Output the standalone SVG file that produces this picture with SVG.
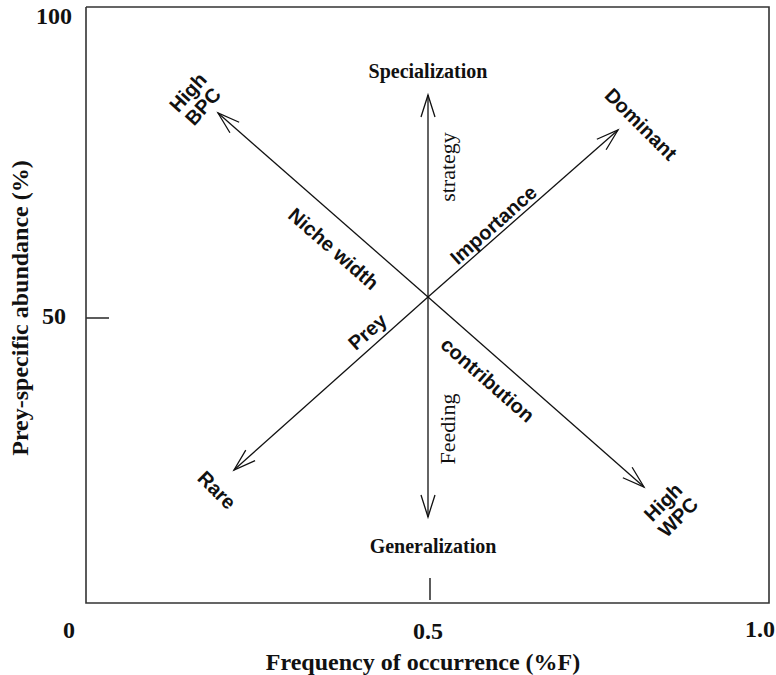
<svg xmlns="http://www.w3.org/2000/svg" width="776" height="675" viewBox="0 0 776 675">
<style>
.ax{fill:none;stroke:#333;stroke-width:1.6}
.ar{fill:none;stroke:#111;stroke-width:1.3}
.sf{font-family:"Liberation Serif","Times New Roman",serif;font-weight:bold;fill:#111}
.ss{font-family:"Liberation Sans",Arial,sans-serif;font-weight:bold;fill:#111;font-size:20px}
.sr{font-family:"Liberation Serif","Times New Roman",serif;fill:#111;font-size:22px}
</style>
<defs>
<marker id="v" markerWidth="30" markerHeight="20" refX="24" refY="8" orient="auto" markerUnits="userSpaceOnUse" viewBox="0 0 30 16">
<path d="M2,1 L24,8 L2,15" fill="none" stroke="#111" stroke-width="1.3"/>
</marker>
</defs>
<rect width="776" height="675" fill="#fff"/>
<g id="axes">
<polyline class="ax" points="86,7 769,7 769,603 86,603 86,7"/>
<line class="ax" x1="86" y1="318" x2="109" y2="318" stroke-width="1"/>
<line class="ax" x1="430" y1="578" x2="430" y2="600" stroke-width="1"/>
<text class="sf" font-size="24" x="72" y="24" text-anchor="end">100</text>
<text class="sf" font-size="24" x="66" y="324" text-anchor="end">50</text>
<text class="sf" font-size="24" x="69" y="638" text-anchor="middle">0</text>
<text class="sf" font-size="24" x="428" y="639" text-anchor="middle">0.5</text>
<text class="sf" font-size="24" x="760" y="637" text-anchor="middle">1.0</text>
<text class="sf" font-size="24" x="423" y="670" text-anchor="middle">Frequency of occurrence (%F)</text>
<text class="sf" font-size="24" transform="translate(28,308) rotate(-90)" text-anchor="middle">Prey-specific abundance (%)</text>
</g>
<g id="connectors">
<line class="ar" x1="428" y1="297" x2="428" y2="95" marker-end="url(#v)"/>
<line class="ar" x1="428" y1="297" x2="428" y2="517" marker-end="url(#v)"/>
<line class="ar" x1="428" y1="297" x2="218" y2="113" marker-end="url(#v)"/>
<line class="ar" x1="428" y1="297" x2="644" y2="487" marker-end="url(#v)"/>
<line class="ar" x1="428" y1="297" x2="618" y2="130" marker-end="url(#v)"/>
<line class="ar" x1="428" y1="297" x2="234" y2="470" marker-end="url(#v)"/>
</g>
<g id="specialization"><text class="sf" font-size="20" x="428" y="78" text-anchor="middle">Specialization</text></g>
<g id="generalization"><text class="sf" font-size="20" x="433" y="553" text-anchor="middle">Generalization</text></g>
<g id="strategy"><text class="sr" transform="translate(455,167) rotate(-90)" text-anchor="middle">strategy</text></g>
<g id="feeding"><text class="sr" transform="translate(455,429) rotate(-90)" text-anchor="middle">Feeding</text></g>
<g id="high-bpc">
<text class="ss" transform="translate(193,97) rotate(-48)" text-anchor="middle">High</text>
<text class="ss" transform="translate(208,111) rotate(-48)" text-anchor="middle">BPC</text>
</g>
<g id="dominant"><text class="ss" transform="translate(636,129) rotate(45)" text-anchor="middle">Dominant</text></g>
<g id="rare"><text class="ss" transform="translate(212,495) rotate(45)" text-anchor="middle">Rare</text></g>
<g id="high-wpc">
<text class="ss" transform="translate(668,507) rotate(-45)" text-anchor="middle">High</text>
<text class="ss" transform="translate(683,522) rotate(-45)" text-anchor="middle">WPC</text>
</g>
<g id="niche-width"><text class="ss" transform="translate(329,254) rotate(41.3)" text-anchor="middle">Niche width</text></g>
<g id="importance"><text class="ss" transform="translate(498,230) rotate(-41.5)" text-anchor="middle">Importance</text></g>
<g id="prey"><text class="ss" transform="translate(372,337) rotate(-41.5)" text-anchor="middle">Prey</text></g>
<g id="contribution"><text class="ss" transform="translate(483,385) rotate(41.3)" text-anchor="middle">contribution</text></g>
</svg>
